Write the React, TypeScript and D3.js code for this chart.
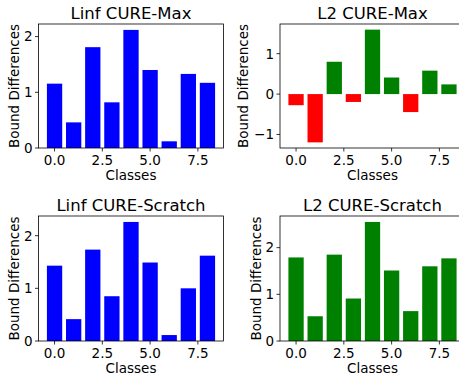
import React from 'react';
import * as d3 from 'd3';

const classes = [0, 1, 2, 3, 4, 5, 6, 7, 8];
const linfMax = [1.155, 0.46, 1.81, 0.82, 2.12, 1.40, 0.12, 1.33, 1.17];
const l2Max = [-0.275, -1.195, 0.80, -0.195, 1.595, 0.41, -0.445, 0.58, 0.24];
const linfScratch = [1.43, 0.415, 1.735, 0.85, 2.26, 1.49, 0.113, 1.0, 1.62];
const l2Scratch = [1.79, 0.53, 1.85, 0.91, 2.55, 1.51, 0.64, 1.60, 1.77];
const xTicks = [0, 2.5, 5, 7.5];

interface PanelProps {
  title: string;
  values: number[];
  yTicks: number[];
  color: (v: number) => string;
  left: number;
  top: number;
  bottom: number;
  labelX: number;
}

const W = 185;
const font = 'DejaVu Sans, sans-serif';
const fmtY = (v: number) => (v < 0 ? '\u2212' + Math.abs(v) : String(v));

const Panel: React.FC<PanelProps> = ({ title, values, yTicks, color, left, top, bottom, labelX }) => {
  const n = classes.length;
  const xMin = -0.4, xMax = n - 1 + 0.4;
  const xPad = (xMax - xMin) * 0.05;
  const x = d3.scaleLinear().domain([xMin - xPad, xMax + xPad]).range([left, left + W]);

  const lo = d3.min(values) as number;
  const hi = d3.max(values) as number;
  let y0: number, y1: number;
  if (lo >= 0) {
    y0 = 0;
    y1 = hi * 1.05;
  } else {
    const r = hi - lo;
    y0 = lo - r * 0.05;
    y1 = hi + r * 0.05;
  }
  const y = d3.scaleLinear().domain([y0, y1]).range([bottom, top]);

  return (
    <g>
      {values.map((v, i) => (
        <rect
          key={i}
          x={x(classes[i] - 0.4)}
          width={x(0.8) - x(0)}
          y={Math.min(y(v), y(0))}
          height={Math.abs(y(v) - y(0))}
          fill={color(v)}
        />
      ))}
      <rect x={left} y={top} width={W} height={bottom - top} fill="none" stroke="#000" strokeWidth={0.8} />
      {xTicks.map(t => (
        <g key={t}>
          <line x1={x(t)} x2={x(t)} y1={bottom} y2={bottom + 3.5} stroke="#000" strokeWidth={0.8} />
          <text x={x(t)} y={bottom + 17} textAnchor="middle" fontSize={13.5} fontFamily={font}>
            {t.toFixed(1)}
          </text>
        </g>
      ))}
      {yTicks.map(t => (
        <g key={t}>
          <line x1={left - 3.5} x2={left} y1={y(t)} y2={y(t)} stroke="#000" strokeWidth={0.8} />
          <text x={left - 6} y={y(t)} dy="0.36em" textAnchor="end" fontSize={13.5} fontFamily={font}>
            {fmtY(t)}
          </text>
        </g>
      ))}
      <text x={left + W / 2} y={top - 5} textAnchor="middle" fontSize={16.5} fontFamily={font}>
        {title}
      </text>
      <text x={left + W / 2} y={bottom + 32} textAnchor="middle" fontSize={13.5} fontFamily={font}>
        Classes
      </text>
      <text
        transform={`translate(${labelX},${(top + bottom) / 2}) rotate(-90)`}
        textAnchor="middle"
        fontSize={13.5}
        fontFamily={font}
      >
        Bound Differences
      </text>
    </g>
  );
};

const blue = () => '#0000ff';
const green = () => '#008000';
const signed = (v: number) => (v < 0 ? '#ff0000' : '#008000');

const App: React.FC = () => (
  <svg width={459} height={375} style={{ position: 'absolute', left: 0, top: 0, background: '#fff' }}>
    <rect width={459} height={375} fill="#fff" />
    <Panel title="Linf CURE-Max" values={linfMax} yTicks={[0, 1, 2]} color={blue} left={38.5} top={24} bottom={148} labelX={19} />
    <Panel title="L2 CURE-Max" values={l2Max} yTicks={[-1, 0, 1]} color={signed} left={280} top={24} bottom={148} labelX={248} />
    <Panel title="Linf CURE-Scratch" values={linfScratch} yTicks={[0, 1, 2]} color={blue} left={38.5} top={216} bottom={341} labelX={19} />
    <Panel title="L2 CURE-Scratch" values={l2Scratch} yTicks={[0, 1, 2]} color={green} left={280} top={216} bottom={341} labelX={261} />
  </svg>
);

export default App;
